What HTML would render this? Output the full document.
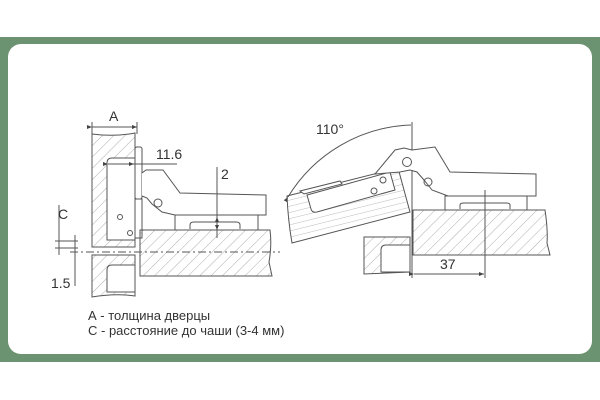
<!DOCTYPE html>
<html><head><meta charset="utf-8"><style>
html,body{margin:0;padding:0;background:#fff;}
body{width:600px;height:400px;position:relative;overflow:hidden;}
.g{position:absolute;left:0;top:37px;width:600px;height:325px;background:#6b9371;}
.w{position:absolute;left:8px;top:44px;width:584px;height:310px;background:#fff;border-radius:13px;}
svg{position:absolute;left:0;top:0;}
text{font-family:"Liberation Sans","DejaVu Sans",sans-serif;fill:#333;}
</style></head><body>
<div class="g"></div><div class="w"></div>
<svg width="600" height="400" viewBox="0 0 600 400">
<defs>
<pattern id="h" patternUnits="userSpaceOnUse" width="8" height="8" patternTransform="rotate(45)">
<line x1="0" y1="0" x2="0" y2="8" stroke="#999" stroke-width="0.8"/></pattern>
<pattern id="hz" patternUnits="userSpaceOnUse" width="6" height="6" patternTransform="rotate(-14)">
<line x1="0" y1="0" x2="6" y2="0" stroke="#aaa" stroke-width="0.8"/></pattern>
<marker id="a" markerWidth="6" markerHeight="6" refX="5" refY="3" orient="auto"><path d="M0,1 L5,3 L0,5z" fill="#444"/></marker>
</defs>
<g stroke="#555" stroke-width="1" fill="none">
<path d="M92,134 Q115,137 135,133 L135,247 L92,247 Z" fill="url(#h)"/>
<path d="M107,240 L107,163 Q107,158 112,158 L135,158 L135,240 Z" fill="#fff"/>
<path d="M92,255 L135,255 L135,296 Q115,293 92,297 Z" fill="url(#h)"/>
<path d="M107,292 L107,270 Q107,265 112,265 L135,265 L135,292 Z" fill="#fff"/>
<rect x="135" y="147" width="7" height="52" rx="2" fill="#fff"/>
<path d="M142,173 L146,170 L163,170 L180,193 L266,195 L266,215 L175,215 L162,212 L152,204 L147,198 L142,196" fill="#fff"/>
<circle cx="158" cy="203" r="4"/>
<path d="M135,199 L142,199 L142,238 L135,238"/>
<rect x="175" y="215" width="83" height="15" fill="#fff"/>
<path d="M190,229 L190,225 Q190,222 194,222 L236,222 Q240,222 240,225 L240,229"/>
<circle cx="120" cy="217" r="2.5"/><circle cx="130" cy="233" r="2.5"/>
<path d="M140,230 L270,230 Q272,245 269,262 L272,276 L140,276 Z" fill="url(#h)"/>
<line x1="92" y1="127" x2="137" y2="127" marker-start="url(#a)" marker-end="url(#a)"/>
<line x1="92" y1="122" x2="92" y2="134"/><line x1="137" y1="122" x2="137" y2="134"/>
<line x1="108" y1="164" x2="134" y2="164" marker-start="url(#a)" marker-end="url(#a)"/>
<line x1="134" y1="164" x2="177" y2="164"/>
<line x1="217" y1="167" x2="217" y2="238"/>
<line x1="217" y1="222" x2="217" y2="217" marker-end="url(#a)"/><line x1="217" y1="225" x2="217" y2="230" marker-end="url(#a)"/>
<line x1="59" y1="205" x2="59" y2="255"/><line x1="75" y1="235" x2="75" y2="286"/>
<line x1="55" y1="241" x2="78" y2="241"/><line x1="55" y1="248" x2="78" y2="248"/>
<line x1="70" y1="252" x2="280" y2="252" stroke-dasharray="8,3,2,3"/>
<path d="M288,197 A150,150 0 0 1 411,125" marker-start="url(#a)"/>
<line x1="412" y1="122" x2="412" y2="278"/>
<path d="M287,196 L398,168 L410,212 L292,243 Q288,220 287,196 Z" fill="url(#hz)"/>
<path d="M300,191 L340,181 L342,184 L304,194 Z" fill="#fff"/>
<path d="M307,195 L390,172 L395,190 L317,212 Q312,213 311,209 Z" fill="#fff"/>
<circle cx="383" cy="180" r="3"/><circle cx="374" cy="191" r="3"/>
<path d="M375,174 L395,150 L404,148 L412,150 L435,147 L450,172 L536,174 L536,196 L448,196 L432,190 L424,180 L417,172 L410,170 L400,172 Z" fill="#fff"/>
<circle cx="407" cy="162" r="4.5"/><circle cx="428" cy="182" r="4"/>
<rect x="445" y="196" width="82" height="14" fill="#fff"/>
<path d="M460,209 L460,205 Q460,203 464,203 L506,203 Q510,203 510,205 L510,209"/>
<path d="M413,210 L545,210 Q548,230 547,243 L550,255 L413,255 Z" fill="url(#h)"/>
<path d="M364,237 L410,237 L410,272 L364,274 Z" fill="url(#h)"/>
<path d="M381,272 L381,250 Q381,245 386,245 L410,245 L410,272 Z" fill="#fff"/>
<line x1="485" y1="190" x2="485" y2="278"/>
<line x1="414" y1="274" x2="484" y2="274" marker-start="url(#a)" marker-end="url(#a)"/>
</g>
<text x="109" y="121" font-size="14">A</text>
<text x="156" y="159" font-size="14">11.6</text>
<text x="221" y="179" font-size="14">2</text>
<text x="58" y="219" font-size="14">C</text>
<text x="51" y="288" font-size="14">1.5</text>
<text x="316" y="134" font-size="14">110°</text>
<text x="440" y="269" font-size="14">37</text>
<text x="88" y="320" font-size="13">А - толщина дверцы</text>
<text x="88" y="335" font-size="13">С - расстояние до чаши (3-4 мм)</text>
</svg>
</body></html>
